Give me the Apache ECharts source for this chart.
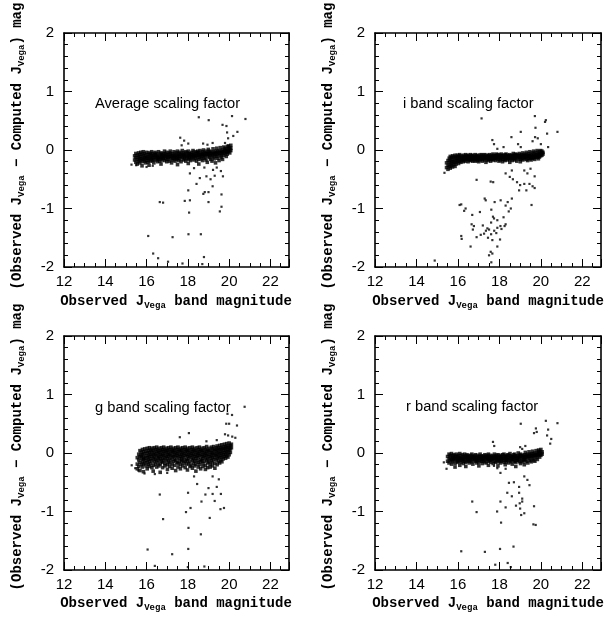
<!DOCTYPE html>
<html><head><meta charset="utf-8">
<script src="https://cdn.jsdelivr.net/npm/echarts@6/dist/echarts.min.js"></script>
<style>html,body{margin:0;padding:0;background:#fff}#c{width:611px;height:617px}</style>
</head><body><div id="c"></div>
<script>
// ---- tick labels ----
const xTickLabels = ['12','14','16','18','20','22'];
const yTickLabels = ['-2','-1','0','1','2'];
const panelLabels = ['Average scaling factor','i band scaling factor','g band scaling factor','r band scaling factor'];

// ---- data: band rows are [x, y1, y2, ...] ; outliers are [x, y] ----
const avgBand = [
[15.42,-0.17,-0.10],[15.48,-0.13,-0.21,-0.06],[15.55,-0.09,-0.16,-0.24],[15.61,-0.12,-0.05,-0.19],
[15.67,-0.15,-0.08,-0.22],[15.72,-0.11,-0.04,-0.17],[15.78,-0.14,-0.07,-0.20,-0.27],[15.84,-0.10,-0.16,-0.03],
[15.9,-0.13,-0.06,-0.19],[15.95,-0.09,-0.15,-0.22],[16.01,-0.12,-0.04,-0.18],[16.07,-0.08,-0.14,-0.21],
[16.12,-0.11,-0.05,-0.17,-0.26],[16.18,-0.13,-0.07,-0.19],[16.24,-0.09,-0.15,-0.03],[16.3,-0.12,-0.06,-0.18],
[16.35,-0.10,-0.16,-0.22],[16.41,-0.13,-0.04,-0.08],[16.47,-0.11,-0.17,-0.06],[16.53,-0.09,-0.14,-0.20],
[16.58,-0.12,-0.03,-0.16],[16.64,-0.07,-0.13,-0.19],[16.7,-0.10,-0.05,-0.15,-0.24],[16.75,-0.12,-0.08,-0.17],
[16.81,-0.06,-0.11,-0.14],[16.87,-0.09,-0.02,-0.18],[16.93,-0.12,-0.07,-0.15],[16.98,-0.10,-0.04,-0.20],
[17.04,-0.08,-0.13,-0.16],[17.1,-0.11,-0.05,-0.19],[17.15,-0.07,-0.12,-0.02],[17.21,-0.09,-0.15,-0.22],
[17.27,-0.06,-0.11,-0.17],[17.33,-0.10,-0.03,-0.14],[17.38,-0.08,-0.13,-0.19],[17.44,-0.05,-0.11,-0.16],
[17.5,-0.09,-0.02,-0.14,-0.25],[17.56,-0.07,-0.12,-0.18],[17.61,-0.10,-0.04,-0.15],[17.67,-0.06,-0.11,-0.20],
[17.73,-0.08,-0.01,-0.13],[17.79,-0.10,-0.05,-0.17],[17.84,-0.07,-0.12,-0.15],[17.9,-0.09,-0.03,-0.19],
[17.96,-0.05,-0.11,-0.14],[18.02,-0.08,-0.02,-0.16,-0.23],[18.07,-0.10,-0.06,-0.13],[18.13,-0.07,-0.12,-0.18],
[18.19,-0.04,-0.09,-0.15],[18.25,-0.08,-0.01,-0.12],[18.3,-0.06,-0.11,-0.17],[18.36,-0.09,-0.03,-0.14],
[18.42,-0.05,-0.10,-0.19],[18.48,-0.07,-0.02,-0.13],[18.53,-0.04,-0.09,-0.16,-0.24],[18.59,-0.08,-0.12,-0.01],
[18.65,-0.06,-0.10,-0.15],[18.71,-0.03,-0.08,-0.18],[18.76,-0.07,-0.12,0.00],[18.82,-0.05,-0.09,-0.14],
[18.88,-0.02,-0.07,-0.17],[18.94,-0.06,-0.11,-0.21],[18.99,-0.04,-0.08,0.01],[19.05,-0.07,-0.13,-0.02],
[19.11,-0.05,-0.10,-0.16],[19.17,-0.03,-0.08,-0.19],[19.22,-0.06,0.02,-0.12],[19.28,-0.04,-0.09,-0.15],
[19.34,-0.02,-0.07,-0.22],[19.4,-0.05,0.03,-0.11],[19.45,-0.03,-0.08,-0.14],[19.51,-0.01,-0.06,-0.18],
[19.57,-0.04,0.04,-0.10],[19.63,-0.02,-0.07,-0.13],[19.68,0.00,-0.05,-0.16],[19.74,-0.03,0.05,-0.09],
[19.8,-0.01,-0.06,0.03],[19.86,0.01,-0.04,-0.11],[19.91,-0.02,0.06,-0.07],[19.97,0.02,-0.03,0.07],
[20.03,0.00,0.04,-0.05],[20.08,0.03,-0.01,0.08]
];
const avgOut = [
[18.53,0.56],[19.01,0.51],[20.14,0.58],[20.79,0.53],[19.68,0.43],[19.87,0.41],[19.9,0.30],[20.4,0.31],
[19.95,0.20],[20.2,0.24],[19.8,0.12],[17.63,0.21],[17.82,0.16],[18.02,0.11],[17.7,0.08],[18.74,0.11],
[18.95,0.09],[19.2,0.12],[15.27,-0.25],[15.5,-0.26],[16.0,-0.29],[16.3,-0.27],[18.3,-0.31],[19.22,-0.34],
[18.1,-0.40],[18.8,-0.30],[19.4,-0.30],[19.6,-0.36],[18.42,-0.58],[18.58,-0.48],[18.9,-0.45],[19.1,-0.50],
[19.3,-0.44],[19.7,-0.45],[18.82,-0.72],[19.0,-0.72],[18.75,-0.75],[19.2,-0.62],[19.63,-0.76],[18.02,-0.69],
[18.1,-0.86],[17.85,-0.87],[16.64,-0.89],[16.8,-0.90],[19.0,-0.89],[19.63,-0.97],[19.55,-1.05],[18.06,-1.07],
[16.08,-1.47],[17.26,-1.49],[18.03,-1.44],[18.63,-1.44],[16.32,-1.77],[16.56,-1.85],[17.04,-1.91],[18.78,-1.83],
[18.7,-1.95],[17.74,-1.94]
];
const iBand = [
[15.45,-0.30,-0.22],[15.52,-0.18,-0.26,-0.33],[15.58,-0.21,-0.14,-0.28],[15.63,-0.17,-0.24,-0.31,-0.11],
[15.69,-0.20,-0.13,-0.27],[15.74,-0.16,-0.22,-0.29,-0.10],[15.8,-0.19,-0.12,-0.25],[15.86,-0.15,-0.21,-0.09,-0.28],
[15.91,-0.18,-0.12,-0.24],[15.97,-0.14,-0.20,-0.09],[16.03,-0.17,-0.11,-0.23],[16.08,-0.13,-0.19,-0.08],
[16.14,-0.16,-0.10,-0.21],[16.2,-0.12,-0.18,-0.14],[16.26,-0.15,-0.09,-0.20],[16.31,-0.11,-0.17,-0.13],
[16.37,-0.14,-0.19,-0.08],[16.43,-0.12,-0.16,-0.10],[16.49,-0.15,-0.09,-0.20],[16.54,-0.11,-0.17,-0.13],
[16.6,-0.14,-0.08,-0.18],[16.66,-0.12,-0.16,-0.10],[16.71,-0.15,-0.19,-0.09],[16.77,-0.11,-0.14,-0.17],
[16.83,-0.13,-0.08,-0.19],[16.89,-0.10,-0.16,-0.12],[16.94,-0.14,-0.18,-0.09],[17.0,-0.12,-0.15,-0.20],
[17.06,-0.09,-0.13,-0.17],[17.12,-0.14,-0.11,-0.08],[17.17,-0.12,-0.16,-0.19],[17.23,-0.09,-0.14,-0.11],
[17.29,-0.13,-0.17,-0.08],[17.35,-0.11,-0.15,-0.21],[17.4,-0.14,-0.09,-0.12],[17.46,-0.10,-0.16,-0.18],
[17.52,-0.13,-0.08,-0.15],[17.58,-0.11,-0.14,-0.19],[17.63,-0.09,-0.13,-0.16],[17.69,-0.12,-0.07,-0.17],
[17.75,-0.10,-0.15,-0.13],[17.81,-0.13,-0.09,-0.18],[17.86,-0.11,-0.14,-0.07],[17.92,-0.09,-0.16,-0.12],
[17.98,-0.12,-0.08,-0.19],[18.04,-0.10,-0.14,-0.17],[18.09,-0.13,-0.07,-0.11],[18.15,-0.09,-0.15,-0.20],
[18.21,-0.12,-0.10,-0.16],[18.27,-0.08,-0.13,-0.18],[18.32,-0.11,-0.15,-0.07],[18.38,-0.13,-0.09,-0.17],
[18.44,-0.10,-0.14,-0.12],[18.5,-0.08,-0.16,-0.21],[18.55,-0.12,-0.10,-0.14],[18.61,-0.09,-0.13,-0.18],
[18.67,-0.11,-0.06,-0.15],[18.73,-0.13,-0.09,-0.17],[18.78,-0.10,-0.14,-0.07],[18.84,-0.08,-0.12,-0.19],
[18.9,-0.11,-0.15,-0.10],[18.96,-0.09,-0.13,-0.06],[19.01,-0.12,-0.16,-0.20],[19.07,-0.08,-0.11,-0.14],
[19.13,-0.10,-0.05,-0.17],[19.19,-0.12,-0.09,-0.15],[19.24,-0.07,-0.13,-0.10],[19.3,-0.11,-0.16,-0.04],
[19.36,-0.09,-0.12,-0.18],[19.42,-0.06,-0.14,-0.10],[19.47,-0.10,-0.03,-0.15],[19.53,-0.08,-0.12,-0.17],
[19.59,-0.05,-0.11,-0.14],[19.65,-0.09,-0.02,-0.13],[19.7,-0.07,-0.11,-0.16],[19.76,-0.04,-0.09,-0.13],
[19.82,-0.08,-0.01,-0.12],[19.88,-0.06,-0.10,-0.15],[19.93,-0.03,-0.08,-0.12],[19.99,-0.07,-0.01,-0.10],
[20.05,-0.05,-0.09,-0.02],[20.1,-0.07,-0.04]
];
const iOut = [
[17.14,0.54],[19.71,0.58],[20.24,0.51],[20.8,0.31],[20.3,0.28],[19.74,0.38],[18.58,0.22],[19.03,0.31],
[17.66,0.17],[17.74,0.10],[17.9,0.02],[19.03,0.05],[19.6,0.15],[19.72,0.22],[19.85,0.20],[20.0,0.10],
[20.2,0.48],[20.35,0.05],[18.2,0.05],[18.9,0.10],
[15.35,-0.39],[16.9,-0.51],[17.58,-0.54],[17.7,-0.55],[18.5,-0.46],[18.65,-0.50],[18.85,-0.55],[19.0,-0.60],
[19.2,-0.58],[19.45,-0.58],[19.6,-0.62],[19.7,-0.65],[18.95,-0.69],[19.3,-0.69],[18.3,-0.40],[18.6,-0.35],
[19.2,-0.35],[19.35,-0.40],[19.5,-0.32],[19.7,-0.45],[19.55,-0.94],[17.34,-0.86],[18.06,-0.86],[18.4,-0.89],
[18.6,-0.83],[17.77,-0.89],[17.29,-0.83],[16.16,-0.93],[16.08,-0.94],[16.37,-1.00],[16.3,-1.04],[17.06,-1.06],
[16.69,-1.11],[17.61,-1.02],[18.3,-0.95],[18.45,-1.05],[18.2,-1.15],[18.55,-1.00],[17.74,-1.17],[17.69,-1.14],
[17.9,-1.20],[17.6,-1.24],[16.66,-1.27],[16.77,-1.30],[16.72,-1.36],[17.42,-1.34],[17.2,-1.29],[17.35,-1.38],
[17.5,-1.36],[17.75,-1.38],[17.9,-1.33],[18.05,-1.30],[17.6,-1.44],[17.85,-1.42],[18.1,-1.35],[18.25,-1.30],
[18.3,-1.27],[17.26,-1.43],[16.16,-1.47],[16.18,-1.52],[16.9,-1.49],[17.1,-1.45],[17.66,-1.54],[18.03,-1.53],
[17.45,-1.50],[16.61,-1.65],[17.58,-1.74],[17.66,-1.77],[17.5,-1.80],[17.9,-1.65],[14.88,-1.89],[17.61,-1.92]
];
const gBand = [
[15.55,-0.08,-0.19,-0.27],[15.62,-0.02,-0.12,-0.23],[15.68,0.04,-0.06,-0.16,-0.30],[15.74,0.01,-0.09,-0.20,-0.04],
[15.8,0.06,-0.03,-0.14,-0.24],[15.85,0.02,-0.07,-0.11,-0.19,-0.32],[15.91,0.07,-0.01,-0.09,-0.17],[15.97,0.03,-0.05,-0.13,-0.22],
[16.03,0.08,0.00,-0.08,-0.16,-0.27],[16.09,0.04,-0.04,-0.11,-0.20],[16.14,0.09,0.01,-0.06,-0.14,-0.23],[16.2,0.05,-0.02,-0.10,-0.18],
[16.26,0.08,0.02,-0.05,-0.13,-0.25],[16.32,0.04,-0.03,-0.09,-0.21,-0.31],[16.37,0.09,0.00,-0.07,-0.15],[16.43,0.06,-0.02,-0.11,-0.19],
[16.49,0.10,0.03,-0.05,-0.13,-0.24],[16.55,0.05,-0.01,-0.08,-0.17],[16.6,0.08,0.01,-0.06,-0.12,-0.22],[16.66,0.04,-0.03,-0.10,-0.19,-0.33],
[16.72,0.09,0.02,-0.05,-0.14],[16.78,0.06,-0.02,-0.09,-0.16,-0.25],[16.83,0.10,0.03,-0.04,-0.12],[16.89,0.05,-0.01,-0.08,-0.18,-0.22],
[16.95,0.08,0.02,-0.06,-0.13],[17.01,0.04,-0.03,-0.10,-0.20,-0.28],[17.06,0.09,0.01,-0.05,-0.15],[17.12,0.06,-0.02,-0.09,-0.17,-0.23],
[17.18,0.10,0.03,-0.04,-0.12],[17.24,0.05,0.00,-0.07,-0.19,-0.26],[17.29,0.08,0.02,-0.06,-0.14],[17.35,0.04,-0.03,-0.11,-0.21],
[17.41,0.09,0.01,-0.05,-0.13,-0.30],[17.47,0.06,-0.01,-0.08,-0.16],[17.52,0.10,0.03,-0.04,-0.18,-0.24],[17.58,0.05,-0.02,-0.09,-0.14],
[17.64,0.08,0.02,-0.06,-0.20,-0.27],[17.7,0.04,-0.03,-0.10,-0.15],[17.75,0.09,0.01,-0.05,-0.12,-0.22],[17.81,0.06,-0.01,-0.08,-0.17],
[17.87,0.10,0.03,-0.04,-0.14,-0.25],[17.93,0.05,-0.02,-0.11,-0.19],[17.98,0.08,0.02,-0.06,-0.13,-0.29],[18.04,0.04,-0.03,-0.09,-0.18],
[18.1,0.09,0.01,-0.05,-0.15,-0.23],[18.16,0.06,-0.01,-0.08,-0.21],[18.22,0.10,0.03,-0.04,-0.12,-0.26],[18.27,0.05,-0.02,-0.10,-0.17],
[18.33,0.08,0.02,-0.06,-0.14,-0.22],[18.39,0.04,-0.03,-0.09,-0.19,-0.31],[18.45,0.09,0.01,-0.05,-0.13],[18.5,0.06,-0.01,-0.08,-0.16,-0.24],
[18.56,0.10,0.03,-0.04,-0.20],[18.62,0.05,-0.02,-0.11,-0.15,-0.27],[18.68,0.08,0.02,-0.06,-0.13],[18.73,0.04,-0.03,-0.09,-0.18,-0.23],
[18.79,0.09,0.01,-0.05,-0.14],[18.85,0.06,-0.01,-0.08,-0.21,-0.28],[18.91,0.11,0.03,-0.04,-0.12],[18.96,0.05,-0.02,-0.10,-0.17,-0.25],
[19.02,0.08,0.02,-0.06,-0.15],[19.08,0.04,-0.03,-0.09,-0.19,-0.24],[19.14,0.10,0.01,-0.05,-0.13],[19.19,0.07,0.00,-0.08,-0.16,-0.22],
[19.25,0.11,0.04,-0.03,-0.11],[19.31,0.06,-0.01,-0.07,-0.18,-0.26],[19.37,0.09,0.03,-0.04,-0.12],[19.42,0.12,0.05,-0.02,-0.09,-0.20],
[19.48,0.08,0.01,-0.06,-0.14],[19.54,0.13,0.06,-0.01,-0.08,-0.17],[19.6,0.09,0.03,-0.04,-0.12],[19.65,0.14,0.07,0.00,-0.07,-0.15],
[19.71,0.10,0.04,-0.03,-0.10],[19.77,0.15,0.08,0.01,-0.06],[19.83,0.11,0.05,-0.02,-0.09],[19.88,0.16,0.09,0.02,-0.05],
[19.94,0.12,0.06,0.00,-0.07],[20.0,0.17,0.10,0.04,-0.03],[20.06,0.13,0.07,0.01],[20.11,0.15,0.09]
];
const gOut = [
[20.75,0.79],[19.92,0.67],[20.14,0.65],[19.86,0.50],[20.0,0.50],[20.38,0.47],[19.8,0.32],[19.95,0.30],
[20.15,0.28],[20.3,0.26],[18.05,0.34],[17.61,0.27],[18.9,0.20],[19.4,0.22],[15.28,-0.21],[15.45,-0.26],
[15.6,-0.30],[15.9,-0.35],[16.4,-0.36],[17.0,-0.34],[18.45,-0.53],[18.3,-0.40],[16.64,-0.71],[18.85,-0.71],
[19.0,-0.60],[19.2,-0.70],[19.4,-0.58],[19.6,-0.70],[19.3,-0.82],[18.66,-0.83],[18.01,-0.68],[17.91,-1.01],
[18.13,-0.94],[19.06,-1.11],[19.58,-0.96],[19.75,-0.94],[16.8,-1.13],[18.03,-1.28],[18.63,-1.39],[16.05,-1.65],
[17.24,-1.73],[18.02,-1.64],[16.4,-1.93],[18.0,-1.95],[18.8,-1.94],[19.2,-0.40],[19.5,-0.45]
];
const rBand = [
[15.5,-0.06,-0.14],[15.57,-0.02,-0.10,-0.17],[15.63,-0.07,-0.13,-0.04],[15.69,-0.11,-0.01,-0.19],
[15.75,-0.05,-0.09,-0.15],[15.8,-0.03,-0.12,-0.08],[15.86,-0.10,-0.05,-0.18,-0.24],[15.92,-0.07,-0.02,-0.13],
[15.98,-0.11,-0.06,-0.16],[16.03,-0.04,-0.09,-0.14],[16.09,-0.08,-0.01,-0.12,-0.21],[16.15,-0.05,-0.10,-0.16],
[16.21,-0.09,-0.03,-0.13],[16.26,-0.06,-0.11,-0.18],[16.32,-0.02,-0.08,-0.14],[16.38,-0.10,-0.05,-0.16,-0.23],
[16.44,-0.07,-0.03,-0.12],[16.49,-0.09,-0.14,-0.05],[16.55,-0.11,-0.06,-0.17],[16.61,-0.04,-0.09,-0.13],
[16.67,-0.08,-0.02,-0.15],[16.72,-0.10,-0.06,-0.19],[16.78,-0.05,-0.12,-0.08],[16.84,-0.09,-0.03,-0.14],
[16.9,-0.07,-0.11,-0.17],[16.95,-0.04,-0.09,-0.13],[17.01,-0.10,-0.06,-0.16,-0.22],[17.07,-0.07,-0.02,-0.12],
[17.13,-0.09,-0.14,-0.05],[17.18,-0.11,-0.07,-0.18],[17.24,-0.05,-0.09,-0.13],[17.3,-0.08,-0.03,-0.15],
[17.36,-0.10,-0.06,-0.17],[17.41,-0.04,-0.11,-0.08],[17.47,-0.09,-0.02,-0.14,-0.21],[17.53,-0.06,-0.10,-0.13],
[17.59,-0.08,-0.04,-0.16],[17.64,-0.11,-0.07,-0.12],[17.7,-0.05,-0.09,-0.18],[17.76,-0.08,-0.02,-0.14],
[17.82,-0.10,-0.06,-0.16],[17.87,-0.04,-0.08,-0.12],[17.93,-0.09,-0.03,-0.15,-0.22],[17.99,-0.06,-0.11,-0.13],
[18.05,-0.08,-0.04,-0.17],[18.1,-0.10,-0.06,-0.14],[18.16,-0.03,-0.09,-0.12],[18.22,-0.07,-0.02,-0.16],
[18.28,-0.09,-0.05,-0.13,-0.20],[18.33,-0.06,-0.11,-0.15],[18.39,-0.08,-0.03,-0.12],[18.45,-0.04,-0.10,-0.17],
[18.51,-0.07,-0.01,-0.13],[18.56,-0.09,-0.05,-0.15],[18.62,-0.06,-0.11,-0.19],[18.68,-0.03,-0.08,-0.12],
[18.74,-0.07,-0.02,-0.14],[18.79,-0.09,-0.05,-0.16,-0.23],[18.85,-0.05,-0.10,-0.13],[18.91,-0.07,0.00,-0.12],
[18.97,-0.04,-0.09,-0.15],[19.02,-0.06,-0.02,-0.18],[19.08,-0.08,-0.04,-0.13],[19.14,-0.05,-0.10,-0.15],
[19.2,-0.03,-0.07,-0.12,-0.20],[19.25,-0.06,0.01,-0.11],[19.31,-0.04,-0.08,-0.14],[19.37,-0.02,-0.06,-0.17],
[19.43,-0.05,0.02,-0.10],[19.48,-0.03,-0.07,-0.13],[19.54,-0.01,-0.05,-0.15],[19.6,-0.04,0.03,-0.09],
[19.66,-0.02,-0.06,-0.12],[19.71,0.00,-0.04,-0.14],[19.77,-0.03,0.04,-0.08],[19.83,-0.01,-0.05,-0.11],
[19.89,0.01,-0.03,0.05],[19.94,-0.02,0.03,-0.07],[20.0,0.00,-0.04,0.06],[20.06,0.02,-0.02]
];
const rOut = [
[20.24,0.55],[20.8,0.51],[19.03,0.50],[19.76,0.42],[19.8,0.36],[20.3,0.30],[20.5,0.24],[20.45,0.16],
[20.35,0.40],[17.69,0.19],[17.75,0.12],[19.0,0.10],[19.1,0.07],[19.25,0.12],[19.67,0.34],[15.32,-0.16],
[15.45,-0.27],[17.74,-0.22],[17.9,-0.26],[18.05,-0.34],[18.3,-0.27],[18.46,-0.51],[19.2,-0.40],[19.35,-0.46],
[19.45,-0.55],[18.7,-0.50],[18.95,-0.58],[18.38,-0.68],[18.6,-0.74],[18.95,-0.68],[19.1,-0.78],[18.98,-0.86],
[18.8,-0.90],[19.0,-0.95],[19.1,-0.83],[19.2,-1.03],[19.05,-1.06],[18.05,-0.83],[17.89,-1.00],[18.08,-1.19],
[18.3,-0.93],[19.64,-1.22],[19.75,-1.23],[19.67,-0.91],[16.69,-0.83],[16.9,-1.01],[16.16,-1.68],[17.3,-1.69],
[18.03,-1.64],[18.68,-1.60],[17.8,-1.91],[18.4,-1.88],[18.55,-1.95]
];

// ---- build ----
function expand(rows){const p=[];rows.forEach(r=>{for(let i=1;i<r.length;i++)p.push([r[0],r[i]]);});return p;}
const bands = [expand(avgBand), expand(iBand), expand(gBand), expand(rBand)];
const outs = [avgOut, iOut, gOut, rOut];

const layout = [
  {left:64, top:33, width:225, height:234},
  {left:375, top:33, width:226, height:234},
  {left:64, top:336, width:225, height:234},
  {left:375, top:336, width:226, height:234}
];
const X_MIN = 12, X_MAX = 22.9, Y_MIN = -2, Y_MAX = 2;
const black = '#000';
const lblFont = 'Liberation Sans, Arial, sans-serif';
const monoFont = 'Liberation Mono, DejaVu Sans Mono, monospace';

const grid=[], xAxis=[], yAxis=[], series=[], graphic=[];
layout.forEach((g,i)=>{
  grid.push(Object.assign({containLabel:false}, g));
  const common = {
    gridIndex:i, type:'value', splitLine:{show:false},
    axisLine:{show:true,onZero:false,lineStyle:{color:black,width:1.6}},
    axisTick:{show:true,inside:true,length:8,lineStyle:{color:black,width:1}},
  };
  xAxis.push(Object.assign({}, common, {
    position:'bottom', min:X_MIN, max:X_MAX, interval:2,
    minorTick:{show:true,splitNumber:4,length:4,lineStyle:{color:black,width:1}},
    axisLabel:{color:black,fontSize:15,fontFamily:lblFont,margin:7,
      formatter:v=>{const s=String(v);return xTickLabels.includes(s)?s:'';}}
  }));
  xAxis.push(Object.assign({}, common, {
    position:'top', min:X_MIN, max:X_MAX, interval:2,
    minorTick:{show:true,splitNumber:4,length:4,lineStyle:{color:black,width:1}},
    axisLabel:{show:false}
  }));
  yAxis.push(Object.assign({}, common, {
    position:'left', min:Y_MIN, max:Y_MAX, interval:1,
    minorTick:{show:true,splitNumber:5,length:4,lineStyle:{color:black,width:1}},
    axisLabel:{color:black,fontSize:15,fontFamily:lblFont,margin:10,
      formatter:v=>{const s=String(v);return yTickLabels.includes(s)?s:'';}}
  }));
  yAxis.push(Object.assign({}, common, {
    position:'right', min:Y_MIN, max:Y_MAX, interval:1,
    minorTick:{show:true,splitNumber:5,length:4,lineStyle:{color:black,width:1}},
    axisLabel:{show:false}
  }));
  series.push({
    type:'scatter', xAxisIndex:2*i, yAxisIndex:2*i, data:bands[i],
    symbol:'rect', symbolSize:3.6, itemStyle:{color:black}, silent:true
  });
  series.push({
    type:'scatter', xAxisIndex:2*i, yAxisIndex:2*i, data:outs[i],
    symbol:'rect', symbolSize:2.2, itemStyle:{color:black}, silent:true
  });
});

const rich = {
  m:{fontFamily:monoFont,fontWeight:'bold',fontSize:14,fill:black,lineHeight:16,verticalAlign:'top'},
  s:{fontFamily:monoFont,fontWeight:'bold',fontSize:9,fill:black,lineHeight:6,verticalAlign:'bottom'}
};
const xTitle = '{m|Observed J}{s|Vega}{m| band magnitude}';
const yTitle = '{m|(Observed J}{s|Vega}{m| \u2212 Computed J}{s|Vega}{m|) mag}';

const annPos = [[95,104],[403,104],[95,408],[406,407]];
const xTitlePos = [[176,302],[488,302],[176,604],[488,604]];
const yTitlePos = [[18,146],[329,146],[18,447],[329,447]];
for(let i=0;i<4;i++){
  graphic.push({type:'text', x:annPos[i][0], y:annPos[i][1], silent:true,
    style:{text:panelLabels[i], fill:black, fontFamily:lblFont, fontSize:14.7, align:'left', verticalAlign:'middle'}});
  graphic.push({type:'text', x:xTitlePos[i][0], y:xTitlePos[i][1], silent:true,
    style:{text:xTitle, rich:rich, align:'center', verticalAlign:'middle'}});
  graphic.push({type:'text', x:yTitlePos[i][0], y:yTitlePos[i][1], rotation:Math.PI/2, silent:true,
    style:{text:yTitle, rich:rich, align:'center', verticalAlign:'middle'}});
}

const chart = echarts.init(document.getElementById('c'), null, {renderer:'canvas'});
chart.setOption({animation:false, backgroundColor:'#fff', grid, xAxis, yAxis, series, graphic});
</script></body></html>
